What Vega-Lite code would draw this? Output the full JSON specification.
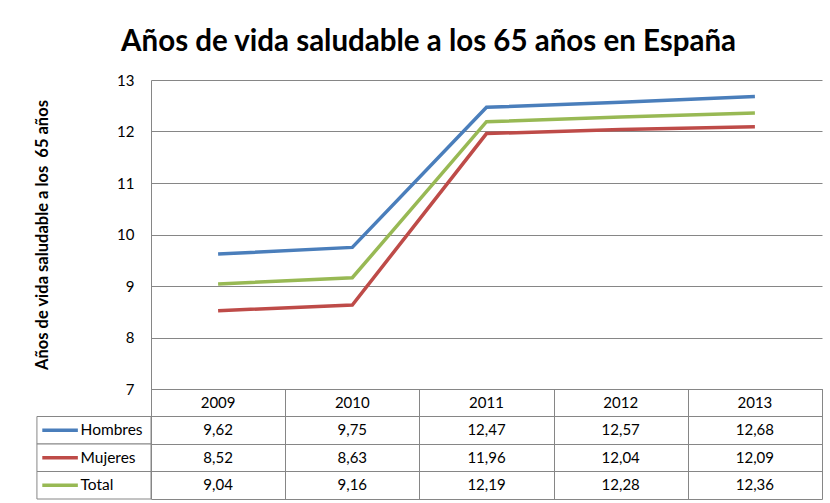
{
  "$schema": "https://vega.github.io/schema/vega-lite/v6.json",
  "background": "white",
  "padding": {"left": 34, "top": 26, "right": 6, "bottom": 4},
  "title": {"text": "Años de vida saludable a los 65 años en España", "fontSize": 29.5, "font": "Lato", "fontWeight": "bold", "color": "black", "anchor": "middle", "offset": 16},
  "spacing": 0,
  "bounds": "flush",
  "config": {
    "font": "Lato",
    "view": {"stroke": null},
    "locale": {"number": {"decimal": ",", "thousands": ".", "grouping": [3], "currency": ["", " €"]}}
  },
  "datasets": {
    "vida": [
      {"year": 2009, "serie": "Hombres", "value": 9.62},
      {"year": 2010, "serie": "Hombres", "value": 9.75},
      {"year": 2011, "serie": "Hombres", "value": 12.47},
      {"year": 2012, "serie": "Hombres", "value": 12.57},
      {"year": 2013, "serie": "Hombres", "value": 12.68},
      {"year": 2009, "serie": "Mujeres", "value": 8.52},
      {"year": 2010, "serie": "Mujeres", "value": 8.63},
      {"year": 2011, "serie": "Mujeres", "value": 11.96},
      {"year": 2012, "serie": "Mujeres", "value": 12.04},
      {"year": 2013, "serie": "Mujeres", "value": 12.09},
      {"year": 2009, "serie": "Total", "value": 9.04},
      {"year": 2010, "serie": "Total", "value": 9.16},
      {"year": 2011, "serie": "Total", "value": 12.19},
      {"year": 2012, "serie": "Total", "value": 12.28},
      {"year": 2013, "serie": "Total", "value": 12.36}
    ]
  },
  "vconcat": [
    {
      "width": 671,
      "height": 309,
      "data": {"name": "vida"},
      "mark": {"type": "line", "strokeWidth": 3.5},
      "encoding": {
        "x": {"field": "year", "type": "quantitative", "scale": {"domain": [2008.5, 2013.5], "nice": false, "zero": false}, "axis": null},
        "y": {"field": "value", "type": "quantitative", "scale": {"domain": [7, 13], "nice": false, "zero": false},
          "axis": {"values": [7, 8, 9, 10, 11, 12, 13], "title": "Años de vida saludable a los\u00a0 65 años", "titleFont": "Lato", "titleFontSize": 16.5, "titleFontWeight": "bold", "titleColor": "black", "titlePadding": 66,
            "labelFontSize": 15, "labelColor": "black", "labelPadding": 17, "ticks": false, "domainColor": "#868686", "domainWidth": 1, "grid": true, "gridColor": "#868686", "gridWidth": 1, "gridOpacity": 1}},
        "color": {"field": "serie", "type": "nominal", "scale": {"domain": ["Hombres", "Mujeres", "Total"], "range": ["#4a7ebb", "#be4b48", "#98b954"]}, "legend": null}
      }
    },
    {
      "width": 671,
      "height": 110,
      "data": {"name": "vida"},
      "view": {"stroke": "#868686", "strokeWidth": 1},
      "encoding": {
        "x": {"type": "quantitative", "scale": {"domain": [2008.5, 2013.5], "nice": false, "zero": false},
          "axis": {"values": [2009.5, 2010.5, 2011.5, 2012.5], "labels": false, "ticks": false, "domain": false, "title": null, "grid": true, "gridColor": "#868686", "gridWidth": 1, "gridOpacity": 1}},
        "y": {"type": "ordinal", "scale": {"domain": ["Año", "Hombres", "Mujeres", "Total"], "paddingInner": 0, "paddingOuter": 0},
          "axis": {"labels": false, "ticks": false, "domain": false, "title": null, "grid": true, "bandPosition": 0, "gridColor": "#868686", "gridWidth": 1, "gridOpacity": 1}}
      },
      "layer": [
        {
          "transform": [{"filter": "datum.serie === 'Hombres'"}],
          "mark": {"type": "text", "fontSize": 15, "color": "black"},
          "encoding": {
            "x": {"field": "year", "type": "quantitative"},
            "y": {"datum": "Año"},
            "text": {"field": "year", "type": "nominal"}
          }
        },
        {
          "mark": {"type": "text", "fontSize": 15, "color": "black"},
          "encoding": {
            "x": {"field": "year", "type": "quantitative"},
            "y": {"field": "serie", "type": "ordinal"},
            "text": {"field": "value", "type": "quantitative", "format": ".2f"}
          }
        },
        {
          "transform": [{"filter": "datum.year === 2009"}],
          "mark": {"type": "rect", "fill": "white", "stroke": "#868686", "strokeWidth": 1},
          "encoding": {
            "x": {"datum": 2007.65},
            "x2": {"datum": 2008.5},
            "y": {"field": "serie", "type": "ordinal"}
          }
        },
        {
          "transform": [{"filter": "datum.year === 2009"}],
          "mark": {"type": "rule", "strokeWidth": 3.5},
          "encoding": {
            "x": {"datum": 2007.69},
            "x2": {"datum": 2007.955},
            "y": {"field": "serie", "type": "ordinal"},
            "color": {"field": "serie", "type": "nominal", "scale": {"domain": ["Hombres", "Mujeres", "Total"], "range": ["#4a7ebb", "#be4b48", "#98b954"]}, "legend": null}
          }
        },
        {
          "transform": [{"filter": "datum.year === 2009"}],
          "mark": {"type": "text", "fontSize": 15.5, "color": "black", "align": "left"},
          "encoding": {
            "x": {"datum": 2007.975},
            "y": {"field": "serie", "type": "ordinal"},
            "text": {"field": "serie", "type": "nominal"}
          }
        }
      ]
    }
  ]
}
